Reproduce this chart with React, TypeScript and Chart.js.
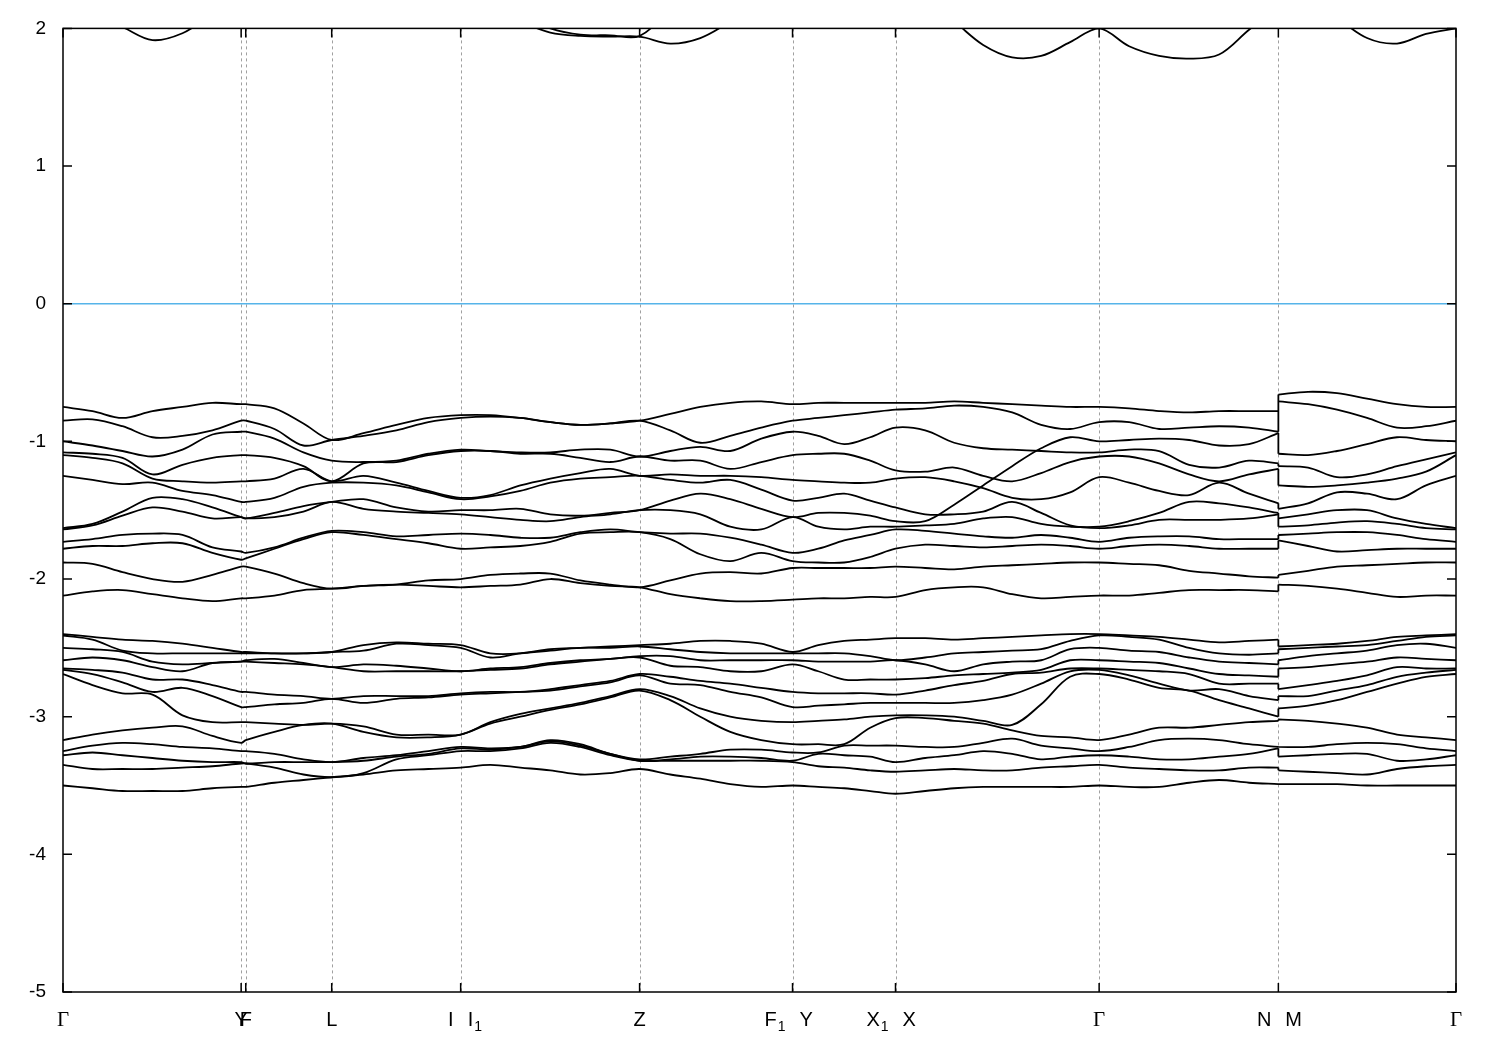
import React, { useEffect, useRef } from 'react';
import { Chart, registerables } from 'chart.js';

Chart.register(...registerables);

// k-path coordinate (arbitrary units along the path)
const kPath = [0, 0.0295, 0.0595, 0.0895, 0.1195, 0.1495, 0.1782, 0.1828, 0.2115, 0.2405,
  0.2688, 0.3005, 0.3335, 0.3655, 0.3978, 0.4275, 0.4575, 0.4875, 0.5175, 0.5475,
  0.5768, 0.6075, 0.6375, 0.6675, 0.6985, 0.7298, 0.7555, 0.7815, 0.8075, 0.8328,
  0.8625, 0.8915, 0.9205, 0.9495, 0.9785, 1.0075, 1.0365, 1.0665, 1.0965, 1.1265,
  1.1565, 1.1865, 1.2158, 1.2158, 1.2455, 1.2745, 1.3045, 1.3345, 1.3635, 1.3935];
const breakIndex = 42; // N | M discontinuity (points 42 and 43 share k)

const hsPoints = [0, 0.1782, 0.1828, 0.2688, 0.3978, 0.5768, 0.7298, 0.8328, 1.0365, 1.2158, 1.3935];
const hsLabels = ['Γ', 'Y', 'F', 'L', 'I|I_1', 'Z', 'F_1|Y', 'X_1|X', 'Γ', 'N|M', 'Γ'];
const yTicks = [2, 1, 0, -1, -2, -3, -4, -5];

// Conduction bands (eV)
const cb1 = [2.0, 2.1, 2.01, 1.915, 1.965, 2.1, 2.2, 2.2, 2.3, 2.3, 2.3, 2.3, 2.3, 2.3, 2.25, 2.15, 2.05, 1.97, 1.945, 1.94, 1.94, 1.89, 1.93, 2.05, 2.2, 2.3, 2.3, 2.3, 2.3, 2.3, 2.2, 2.05, 1.88, 1.79, 1.80, 1.9, 2.0, 1.87, 1.80, 1.78, 1.81, 1.99, 2.15, 2.3, 2.25, 2.08, 1.93, 1.89, 1.96, 2.0];
const cb2 = [2.4, 2.4, 2.4, 2.4, 2.4, 2.4, 2.4, 2.4, 2.4, 2.4, 2.4, 2.4, 2.4, 2.4, 2.4, 2.3, 2.1, 2.0, 1.955, 1.95, 1.945, 2.15, 2.4, 2.4, 2.4, 2.4, 2.4, 2.4, 2.4, 2.4, 2.4, 2.4, 2.4, 2.4, 2.4, 2.4, 2.4, 2.4, 2.4, 2.4, 2.4, 2.4, 2.4, 2.4, 2.4, 2.4, 2.4, 2.4, 2.4, 2.4];

// Valence bands, upper group (eV)
const vbU0 = [-0.75, -0.78, -0.83, -0.78, -0.75, -0.72, -0.73, -0.73, -0.76, -0.87, -0.99, -0.94, -0.88, -0.83, -0.81, -0.81, -0.83, -0.86, -0.88, -0.87, -0.85, -0.80, -0.75, -0.72, -0.71, -0.73, -0.72, -0.72, -0.72, -0.72, -0.72, -0.71, -0.72, -0.73, -0.74, -0.75, -0.75, -0.76, -0.78, -0.79, -0.78, -0.78, -0.78, -0.66, -0.64, -0.65, -0.69, -0.73, -0.75, -0.75];
const vbU1 = [-0.85, -0.84, -0.89, -0.97, -0.96, -0.92, -0.85, -0.85, -0.91, -1.03, -0.99, -0.96, -0.92, -0.86, -0.83, -0.82, -0.83, -0.86, -0.88, -0.87, -0.85, -0.92, -1.01, -0.96, -0.90, -0.85, -0.83, -0.81, -0.79, -0.77, -0.76, -0.74, -0.75, -0.79, -0.88, -0.91, -0.86, -0.86, -0.91, -0.90, -0.89, -0.90, -0.93, -0.71, -0.73, -0.77, -0.83, -0.90, -0.89, -0.85];
const vbU2 = [-1.00, -1.03, -1.07, -1.11, -1.06, -0.95, -0.93, -0.93, -0.98, -1.08, -1.14, -1.15, -1.14, -1.09, -1.06, -1.07, -1.08, -1.08, -1.06, -1.06, -1.11, -1.07, -1.04, -1.07, -0.98, -0.93, -0.96, -1.02, -0.97, -0.90, -0.92, -1.01, -1.05, -1.06, -1.07, -1.08, -1.08, -1.06, -1.07, -1.17, -1.19, -1.14, -1.16, -1.18, -1.19, -1.26, -1.24, -1.18, -1.13, -1.08];
const vbU3 = [-1.08, -1.09, -1.12, -1.24, -1.17, -1.12, -1.10, -1.10, -1.12, -1.18, -1.29, -1.16, -1.15, -1.10, -1.07, -1.07, -1.09, -1.09, -1.12, -1.15, -1.11, -1.14, -1.14, -1.20, -1.15, -1.10, -1.09, -1.09, -1.14, -1.21, -1.22, -1.19, -1.25, -1.29, -1.23, -1.15, -1.11, -1.11, -1.16, -1.24, -1.29, -1.24, -1.20, -1.32, -1.33, -1.32, -1.30, -1.27, -1.22, -1.10];
const vbU4 = [-1.10, -1.12, -1.16, -1.27, -1.29, -1.30, -1.29, -1.29, -1.27, -1.20, -1.29, -1.25, -1.30, -1.36, -1.41, -1.39, -1.32, -1.27, -1.23, -1.20, -1.25, -1.24, -1.25, -1.25, -1.26, -1.28, -1.29, -1.30, -1.30, -1.27, -1.26, -1.29, -1.34, -1.41, -1.42, -1.37, -1.26, -1.30, -1.36, -1.39, -1.30, -1.38, -1.45, -1.49, -1.45, -1.37, -1.38, -1.42, -1.32, -1.25];
const vbU5 = [-1.25, -1.28, -1.31, -1.30, -1.36, -1.39, -1.44, -1.44, -1.41, -1.33, -1.30, -1.30, -1.32, -1.37, -1.42, -1.40, -1.36, -1.30, -1.27, -1.26, -1.25, -1.28, -1.30, -1.28, -1.35, -1.43, -1.41, -1.38, -1.43, -1.48, -1.53, -1.53, -1.51, -1.44, -1.52, -1.61, -1.63, -1.61, -1.57, -1.57, -1.57, -1.56, -1.53, -1.62, -1.61, -1.59, -1.58, -1.60, -1.63, -1.64];
const vbU6 = [-1.63, -1.60, -1.51, -1.41, -1.42, -1.48, -1.55, -1.56, -1.52, -1.47, -1.44, -1.42, -1.48, -1.51, -1.50, -1.50, -1.49, -1.53, -1.54, -1.52, -1.50, -1.43, -1.38, -1.42, -1.49, -1.55, -1.52, -1.52, -1.54, -1.58, -1.58, -1.46, -1.32, -1.18, -1.05, -0.97, -1.00, -0.99, -0.98, -0.99, -1.03, -1.02, -0.94, -1.09, -1.10, -1.07, -1.02, -0.97, -0.99, -1.00];
const vbU7 = [-1.64, -1.61, -1.54, -1.48, -1.51, -1.56, -1.55, -1.56, -1.55, -1.51, -1.44, -1.49, -1.51, -1.52, -1.53, -1.55, -1.57, -1.58, -1.55, -1.53, -1.50, -1.50, -1.53, -1.62, -1.64, -1.55, -1.62, -1.64, -1.62, -1.62, -1.61, -1.60, -1.56, -1.55, -1.60, -1.62, -1.62, -1.58, -1.52, -1.44, -1.45, -1.48, -1.52, -1.56, -1.53, -1.50, -1.50, -1.56, -1.60, -1.63];
const vbU8 = [-1.73, -1.71, -1.68, -1.67, -1.68, -1.77, -1.80, -1.81, -1.77, -1.70, -1.65, -1.66, -1.69, -1.68, -1.67, -1.68, -1.70, -1.70, -1.66, -1.64, -1.66, -1.67, -1.67, -1.70, -1.75, -1.81, -1.78, -1.72, -1.68, -1.64, -1.65, -1.67, -1.69, -1.70, -1.68, -1.70, -1.73, -1.70, -1.69, -1.69, -1.71, -1.71, -1.71, -1.68, -1.67, -1.66, -1.66, -1.68, -1.71, -1.73];
const vbU9 = [-1.78, -1.76, -1.76, -1.74, -1.74, -1.81, -1.86, -1.85, -1.78, -1.71, -1.66, -1.68, -1.71, -1.74, -1.78, -1.77, -1.76, -1.73, -1.67, -1.66, -1.66, -1.71, -1.82, -1.87, -1.81, -1.87, -1.88, -1.88, -1.84, -1.78, -1.75, -1.76, -1.77, -1.76, -1.75, -1.76, -1.78, -1.76, -1.75, -1.76, -1.78, -1.78, -1.78, -1.72, -1.76, -1.80, -1.79, -1.78, -1.78, -1.78];
const vbU10 = [-1.88, -1.89, -1.95, -2.00, -2.02, -1.97, -1.91, -1.91, -1.96, -2.03, -2.07, -2.05, -2.04, -2.01, -2.00, -1.97, -1.96, -1.96, -2.01, -2.04, -2.06, -2.01, -1.96, -1.95, -1.96, -1.92, -1.92, -1.92, -1.92, -1.91, -1.92, -1.93, -1.91, -1.90, -1.89, -1.88, -1.88, -1.89, -1.90, -1.94, -1.96, -1.98, -1.99, -1.97, -1.94, -1.91, -1.90, -1.89, -1.88, -1.88];
const vbU11 = [-2.12, -2.09, -2.08, -2.11, -2.14, -2.16, -2.14, -2.14, -2.12, -2.08, -2.07, -2.05, -2.04, -2.05, -2.06, -2.05, -2.04, -2.00, -2.03, -2.05, -2.06, -2.11, -2.14, -2.16, -2.16, -2.15, -2.14, -2.14, -2.13, -2.13, -2.08, -2.06, -2.06, -2.11, -2.14, -2.13, -2.12, -2.12, -2.10, -2.08, -2.08, -2.08, -2.09, -2.04, -2.05, -2.07, -2.10, -2.13, -2.12, -2.12];

// Valence bands, lower group (eV)
const vbL0 = [-2.40, -2.42, -2.44, -2.45, -2.47, -2.50, -2.53, -2.53, -2.54, -2.54, -2.53, -2.48, -2.46, -2.47, -2.48, -2.54, -2.54, -2.51, -2.50, -2.49, -2.48, -2.47, -2.45, -2.45, -2.47, -2.53, -2.48, -2.45, -2.44, -2.43, -2.43, -2.44, -2.43, -2.42, -2.41, -2.40, -2.40, -2.41, -2.42, -2.44, -2.46, -2.45, -2.44, -2.49, -2.48, -2.47, -2.45, -2.42, -2.41, -2.40];
const vbL1 = [-2.41, -2.44, -2.52, -2.54, -2.54, -2.54, -2.54, -2.54, -2.54, -2.54, -2.53, -2.52, -2.47, -2.48, -2.50, -2.57, -2.54, -2.52, -2.50, -2.50, -2.49, -2.51, -2.53, -2.54, -2.54, -2.54, -2.54, -2.54, -2.56, -2.59, -2.57, -2.54, -2.53, -2.52, -2.51, -2.45, -2.41, -2.42, -2.44, -2.50, -2.54, -2.55, -2.54, -2.51, -2.50, -2.49, -2.48, -2.45, -2.42, -2.41];
const vbL2 = [-2.50, -2.51, -2.53, -2.60, -2.62, -2.61, -2.60, -2.59, -2.58, -2.61, -2.64, -2.62, -2.63, -2.65, -2.67, -2.65, -2.64, -2.61, -2.59, -2.58, -2.56, -2.56, -2.59, -2.59, -2.59, -2.59, -2.60, -2.60, -2.60, -2.59, -2.62, -2.67, -2.62, -2.60, -2.59, -2.51, -2.50, -2.52, -2.53, -2.57, -2.60, -2.61, -2.62, -2.59, -2.56, -2.54, -2.52, -2.48, -2.47, -2.50];
const vbL3 = [-2.59, -2.57, -2.59, -2.64, -2.67, -2.61, -2.60, -2.60, -2.61, -2.62, -2.64, -2.67, -2.67, -2.67, -2.67, -2.66, -2.65, -2.62, -2.60, -2.58, -2.57, -2.63, -2.64, -2.67, -2.67, -2.62, -2.67, -2.73, -2.73, -2.73, -2.72, -2.70, -2.69, -2.68, -2.66, -2.59, -2.59, -2.60, -2.61, -2.65, -2.69, -2.70, -2.71, -2.65, -2.64, -2.62, -2.60, -2.57, -2.58, -2.59];
const vbL4 = [-2.65, -2.66, -2.68, -2.73, -2.73, -2.77, -2.82, -2.82, -2.84, -2.85, -2.87, -2.85, -2.85, -2.85, -2.83, -2.82, -2.82, -2.80, -2.77, -2.74, -2.69, -2.71, -2.74, -2.76, -2.79, -2.82, -2.83, -2.83, -2.83, -2.84, -2.81, -2.77, -2.74, -2.69, -2.68, -2.65, -2.65, -2.66, -2.67, -2.69, -2.76, -2.76, -2.76, -2.80, -2.77, -2.74, -2.70, -2.64, -2.65, -2.65];
const vbL5 = [-2.66, -2.69, -2.75, -2.82, -2.79, -2.85, -2.93, -2.93, -2.91, -2.90, -2.87, -2.90, -2.87, -2.86, -2.84, -2.83, -2.82, -2.81, -2.78, -2.75, -2.70, -2.76, -2.77, -2.82, -2.86, -2.93, -2.92, -2.91, -2.90, -2.90, -2.90, -2.90, -2.88, -2.84, -2.76, -2.67, -2.66, -2.70, -2.76, -2.81, -2.80, -2.85, -2.88, -2.85, -2.85, -2.81, -2.77, -2.71, -2.68, -2.66];
const vbL6 = [-2.69, -2.77, -2.83, -2.84, -2.99, -3.04, -3.04, -3.04, -3.05, -3.06, -3.05, -3.07, -3.13, -3.13, -3.13, -3.04, -2.98, -2.94, -2.90, -2.85, -2.80, -2.85, -2.94, -3.00, -3.03, -3.04, -3.03, -3.02, -3.00, -2.99, -2.99, -3.00, -3.03, -3.06, -2.91, -2.71, -2.69, -2.73, -2.79, -2.81, -2.88, -2.94, -3.00, -2.94, -2.92, -2.88, -2.82, -2.76, -2.71, -2.69];
const vbL7 = [-3.17, -3.13, -3.10, -3.08, -3.07, -3.14, -3.19, -3.17, -3.11, -3.06, -3.05, -3.11, -3.15, -3.15, -3.13, -3.05, -3.00, -2.95, -2.91, -2.86, -2.81, -2.88, -3.00, -3.11, -3.17, -3.20, -3.20, -3.20, -3.08, -3.01, -3.01, -3.03, -3.05, -3.10, -3.14, -3.15, -3.17, -3.13, -3.08, -3.08, -3.06, -3.04, -3.03, -3.02, -3.03, -3.05, -3.08, -3.13, -3.15, -3.17];
const vbL8 = [-3.25, -3.21, -3.19, -3.20, -3.22, -3.23, -3.25, -3.25, -3.27, -3.31, -3.33, -3.30, -3.28, -3.25, -3.22, -3.23, -3.22, -3.17, -3.20, -3.27, -3.31, -3.29, -3.27, -3.24, -3.24, -3.26, -3.26, -3.21, -3.21, -3.21, -3.22, -3.22, -3.19, -3.16, -3.21, -3.23, -3.25, -3.22, -3.17, -3.16, -3.17, -3.20, -3.22, -3.22, -3.22, -3.20, -3.19, -3.20, -3.23, -3.25];
const vbL9 = [-3.28, -3.26, -3.28, -3.30, -3.32, -3.33, -3.33, -3.34, -3.33, -3.33, -3.33, -3.32, -3.29, -3.27, -3.23, -3.24, -3.22, -3.18, -3.21, -3.27, -3.32, -3.31, -3.29, -3.29, -3.30, -3.32, -3.27, -3.28, -3.29, -3.33, -3.30, -3.28, -3.25, -3.27, -3.31, -3.29, -3.28, -3.29, -3.31, -3.31, -3.29, -3.27, -3.23, -3.29, -3.28, -3.27, -3.27, -3.32, -3.31, -3.28];
const vbL10 = [-3.35, -3.38, -3.38, -3.38, -3.37, -3.36, -3.34, -3.34, -3.37, -3.42, -3.44, -3.41, -3.31, -3.28, -3.25, -3.25, -3.23, -3.19, -3.22, -3.28, -3.32, -3.32, -3.32, -3.32, -3.32, -3.33, -3.36, -3.37, -3.39, -3.40, -3.39, -3.38, -3.39, -3.39, -3.37, -3.36, -3.35, -3.37, -3.38, -3.39, -3.39, -3.37, -3.37, -3.39, -3.40, -3.41, -3.42, -3.38, -3.36, -3.35];
const vbL11 = [-3.50, -3.52, -3.54, -3.54, -3.54, -3.52, -3.51, -3.51, -3.48, -3.46, -3.44, -3.42, -3.39, -3.38, -3.37, -3.35, -3.37, -3.39, -3.42, -3.41, -3.38, -3.42, -3.45, -3.49, -3.51, -3.50, -3.51, -3.52, -3.54, -3.56, -3.54, -3.52, -3.51, -3.51, -3.51, -3.51, -3.50, -3.51, -3.51, -3.48, -3.46, -3.48, -3.49, -3.49, -3.49, -3.49, -3.50, -3.50, -3.50, -3.50];

const fermiLevel = 0;

const allBands = [cb1, cb2, vbU0, vbU1, vbU2, vbU3, vbU4, vbU5, vbU6, vbU7, vbU8, vbU9, vbU10, vbU11,
  vbL0, vbL1, vbL2, vbL3, vbL4, vbL5, vbL6, vbL7, vbL8, vbL9, vbL10, vbL11];

function bandPoints(vals: number[]) {
  const pts: { x: number; y: number | null }[] = [];
  vals.forEach((v, i) => {
    pts.push({ x: kPath[i], y: v });
    if (i === breakIndex) pts.push({ x: kPath[i], y: null });
  });
  return pts;
}

function connectorPoints() {
  const pts: { x: number; y: number | null }[] = [];
  allBands.forEach((b) => {
    pts.push({ x: kPath[breakIndex], y: b[breakIndex] });
    pts.push({ x: kPath[breakIndex + 1], y: b[breakIndex + 1] });
    pts.push({ x: kPath[breakIndex + 1], y: null });
  });
  return pts;
}

const SANS = '"Liberation Sans", Arial, sans-serif';
const SERIF = '"Liberation Serif", "DejaVu Serif", serif';

function drawLabelPart(ctx: CanvasRenderingContext2D, text: string, x: number, y: number, align: 'left' | 'right' | 'center') {
  const [main, sub] = text.split('_');
  const mainFont = main === 'Γ' ? `21px ${SERIF}` : `20px ${SANS}`;
  const subFont = `14px ${SANS}`;
  ctx.font = mainFont;
  const wMain = ctx.measureText(main).width;
  ctx.font = subFont;
  const wSub = sub ? ctx.measureText(sub).width + 1 : 0;
  const w = wMain + wSub;
  let sx = x;
  if (align === 'right') sx = x - w;
  else if (align === 'center') sx = x - w / 2;
  ctx.textAlign = 'left';
  ctx.textBaseline = 'middle';
  ctx.font = mainFont;
  ctx.fillText(main, sx, y);
  if (sub) {
    ctx.font = subFont;
    ctx.fillText(sub, sx + wMain + 1, y + 7);
  }
}

const framePlugin = {
  id: 'bandFrame',
  beforeDatasetsDraw(chart: any) {
    const { ctx, chartArea: a, scales } = chart;
    const xs = scales.x;
    ctx.save();
    ctx.strokeStyle = '#a0a0a0';
    ctx.lineWidth = 1;
    ctx.setLineDash([3, 3]);
    hsPoints.slice(1, -1).forEach((k) => {
      const px = Math.round(xs.getPixelForValue(k)) + 0.5;
      ctx.beginPath();
      ctx.moveTo(px, a.top);
      ctx.lineTo(px, a.bottom);
      ctx.stroke();
    });
    ctx.restore();
  },
  afterDraw(chart: any) {
    const { ctx, chartArea: a, scales } = chart;
    const xs = scales.x;
    const ys = scales.y;
    ctx.save();
    ctx.strokeStyle = '#000';
    ctx.lineWidth = 1.5;
    ctx.setLineDash([]);
    ctx.strokeRect(a.left, a.top, a.right - a.left, a.bottom - a.top);
    ctx.beginPath();
    yTicks.forEach((v) => {
      const py = ys.getPixelForValue(v);
      ctx.moveTo(a.left, py);
      ctx.lineTo(a.left + 9, py);
      ctx.moveTo(a.right, py);
      ctx.lineTo(a.right - 9, py);
    });
    hsPoints.forEach((k) => {
      const px = xs.getPixelForValue(k);
      ctx.moveTo(px, a.bottom);
      ctx.lineTo(px, a.bottom - 9);
      ctx.moveTo(px, a.top);
      ctx.lineTo(px, a.top + 9);
    });
    ctx.stroke();
    ctx.fillStyle = '#000';
    const ly = a.bottom + 28;
    hsPoints.forEach((k, i) => {
      const px = xs.getPixelForValue(k);
      const label = hsLabels[i];
      if (label.includes('|')) {
        const [l, r] = label.split('|');
        drawLabelPart(ctx, l, px - 7, ly, 'right');
        drawLabelPart(ctx, r, px + 7, ly, 'left');
      } else {
        drawLabelPart(ctx, label, px, ly, 'center');
      }
    });
    ctx.restore();
  },
};

export default function App() {
  const ref = useRef<HTMLCanvasElement>(null);
  useEffect(() => {
    if (!ref.current) return;
    const bandSets = allBands.map((b) => ({
      data: bandPoints(b),
      borderColor: '#000000',
      borderWidth: 1.8,
      pointRadius: 0,
      tension: 0.35,
      spanGaps: false,
      fill: false,
      clip: 0,
    }));
    const datasets: any[] = [
      {
        data: [{ x: kPath[0], y: fermiLevel }, { x: kPath[kPath.length - 1], y: fermiLevel }],
        borderColor: '#56b4e9',
        borderWidth: 1.6,
        pointRadius: 0,
        tension: 0,
        fill: false,
        clip: 0,
      },
      ...bandSets,
      {
        data: connectorPoints(),
        borderColor: '#000000',
        borderWidth: 1.8,
        pointRadius: 0,
        tension: 0,
        spanGaps: false,
        fill: false,
        clip: 0,
      },
    ];
    const chart = new Chart(ref.current, {
      type: 'line',
      data: { datasets },
      options: {
        animation: false,
        responsive: true,
        maintainAspectRatio: false,
        events: [],
        layout: { padding: { top: 28, right: 44, bottom: 58, left: 0 } },
        plugins: { legend: { display: false }, tooltip: { enabled: false } },
        scales: {
          x: {
            type: 'linear',
            min: kPath[0],
            max: kPath[kPath.length - 1],
            display: false,
          },
          y: {
            type: 'linear',
            min: -5,
            max: 2,
            afterFit: (scale: any) => {
              scale.width = 63;
            },
            afterBuildTicks: (scale: any) => {
              scale.ticks = yTicks.map((v) => ({ value: v }));
            },
            grid: { display: false, drawTicks: false },
            border: { display: false },
            ticks: {
              padding: 17,
              color: '#000',
              font: { family: SANS, size: 19 },
              callback: (v: any) => String(v),
            },
          },
        },
      },
      plugins: [framePlugin],
    } as any);
    return () => chart.destroy();
  }, []);
  return (
    <div style={{ position: 'fixed', left: 0, top: 0, width: 1500, height: 1050, background: '#fff' }}>
      <canvas ref={ref} />
    </div>
  );
}
